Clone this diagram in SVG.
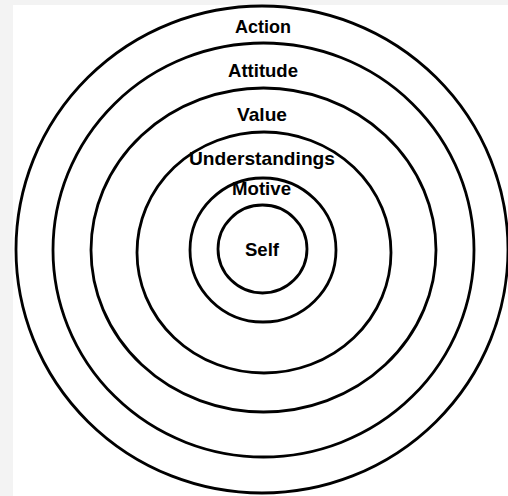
<svg xmlns="http://www.w3.org/2000/svg" width="508" height="496" viewBox="0 0 508 496">
  <style>
    .ring { fill: none; stroke: #000; stroke-width: 2.8; }
    .label { font-family: "Liberation Sans", Arial, sans-serif; font-weight: bold; font-size: 19px; fill: #000; text-anchor: middle; }
  </style>
  <rect width="508" height="496" fill="#f3f3f3"/>
  <rect x="13" y="5" width="495" height="491" fill="#fff"/>

  <g id="action">
    <ellipse class="ring" cx="262" cy="249.5" rx="246" ry="243.5"/>
    <text class="label" x="263" y="33" textLength="56" lengthAdjust="spacingAndGlyphs">Action</text>
  </g>
  <g id="attitude">
    <ellipse class="ring" cx="263.5" cy="250" rx="210.5" ry="207"/>
    <text class="label" x="263" y="77" textLength="70" lengthAdjust="spacingAndGlyphs">Attitude</text>
  </g>
  <g id="value">
    <ellipse class="ring" cx="263.5" cy="250" rx="172.5" ry="162"/>
    <text class="label" x="262" y="121" textLength="50" lengthAdjust="spacingAndGlyphs">Value</text>
  </g>
  <g id="understandings">
    <ellipse class="ring" cx="264" cy="252.5" rx="127" ry="120.5"/>
    <text class="label" x="262" y="165" textLength="146" lengthAdjust="spacingAndGlyphs">Understandings</text>
  </g>
  <g id="motive">
    <ellipse class="ring" cx="263" cy="250" rx="73" ry="72"/>
    <text class="label" x="261.5" y="195" textLength="59" lengthAdjust="spacingAndGlyphs">Motive</text>
  </g>
  <g id="self">
    <ellipse class="ring" cx="262.5" cy="249" rx="44.5" ry="44"/>
    <text class="label" x="262" y="256" textLength="34" lengthAdjust="spacingAndGlyphs">Self</text>
  </g>
</svg>
